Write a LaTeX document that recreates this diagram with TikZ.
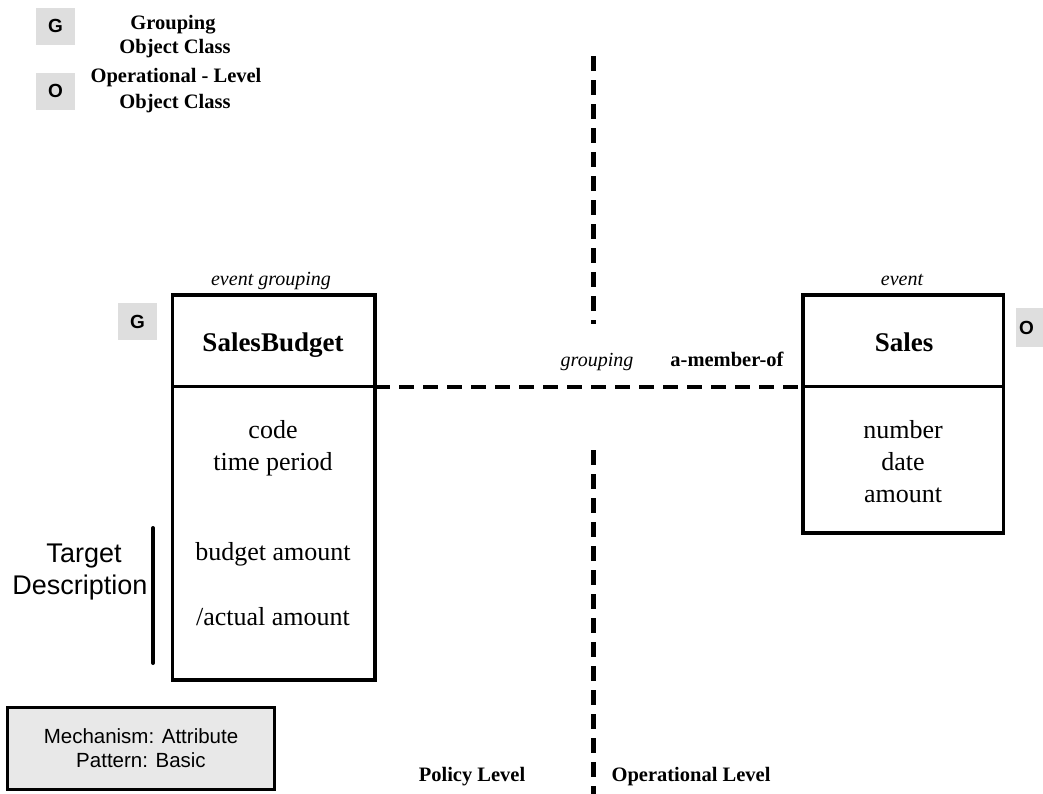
\documentclass[tikz,border=0pt]{standalone}
\usepackage{fontspec}
\setmainfont{Liberation Serif}
\setsansfont{Liberation Sans}
\definecolor{tagfill}{HTML}{DEDEDE}
\definecolor{notefill}{HTML}{E8E8E8}
\begin{document}
\begin{tikzpicture}[x=1pt,y=-1pt,
  classbox/.style={draw,line width=3.5pt,outer sep=0pt,inner sep=0pt,minimum width=#1},
  tag/.style={fill=tagfill,inner sep=0pt,minimum width=39pt,minimum height=37pt,
    font=\sffamily\bfseries\fontsize{19}{22}\selectfont},
  legendtxt/.style={anchor=base,inner sep=0pt,font=\bfseries\fontsize{20.5}{24}\selectfont},
  headtxt/.style={anchor=base,inner sep=0pt,font=\bfseries\fontsize{27}{32}\selectfont},
  attr/.style={anchor=base,inner sep=0pt,font=\fontsize{26}{31}\selectfont},
  roletxt/.style={anchor=base,inner sep=0pt,font=\itshape\fontsize{20}{24}\selectfont},
  reltxt/.style={anchor=base,inner sep=0pt,font=\bfseries\fontsize{20.5}{24}\selectfont},
  sidetxt/.style={anchor=base,inner sep=0pt,font=\sffamily\fontsize{27}{30}\selectfont},
  divider/.style={line width=4.5pt,dash pattern=on 15pt off 9pt},
]
\useasboundingbox (0,0) rectangle (1043,793);

% legend
\node[tag] (legG) at (55.5,26) {G};
\node[legendtxt] (legGa) at (173,29) {Grouping};
\node[legendtxt] (legGb) at (175,53) {Object Class};
\node[tag] (legO) at (55.5,91) {O};
\node[legendtxt] (legOa) at (176,82) {Operational - Level};
\node[legendtxt] (legOb) at (175,108) {Object Class};

% level divider
\coordinate (divTopA) at (593.5,56);
\coordinate (divTopB) at (593.5,324);
\coordinate (divBotA) at (593.5,450);
\coordinate (divBotB) at (593.5,800);
\draw[divider] (divTopA) -- (divTopB);
\draw[divider] (divBotA) -- (divBotB);

% SalesBudget class
\node[classbox=202.5pt,minimum height=91.5pt] (sbHead) at (273.75,340.75) {};
\node[classbox=202.5pt,minimum height=293.5pt] (sbBody) at (273.75,533.25) {};
\node[roletxt] (sbRole) at (271,285) {event grouping};
\node[headtxt] (sbName) at (273,351) {SalesBudget};
\node[attr] (sbA1) at (273,438) {code};
\node[attr] (sbA2) at (273,470) {time period};
\node[attr] (sbA3) at (273,560) {budget amount};
\node[attr] (sbA4) at (273,625) {/actual amount};
\node[tag] (sbTag) at (137.5,321.5) {G};

% Sales class
\node[classbox=200.5pt,minimum height=91.5pt] (slHead) at (903.25,340.75) {};
\node[classbox=200.5pt,minimum height=146.5pt] (slBody) at (903.25,459.75) {};
\node[roletxt] (slRole) at (902,285) {event};
\node[headtxt] (slName) at (904,351) {Sales};
\node[attr] (slA1) at (903,438) {number};
\node[attr] (slA2) at (903,470) {date};
\node[attr] (slA3) at (903,502) {amount};
\node[tag,anchor=west,minimum width=0pt,text width=30pt,align=left,inner xsep=3pt,
  minimum height=39pt] (slTag) at (1016,327.5) {O};

% grouping relationship
\draw[divider,line width=4pt] (sbHead.south east) -- (slHead.south west);
\node[roletxt] (relRole) at (597,366) {grouping};
\node[reltxt] (relName) at (727,366) {a-member-of};

% target description bracket
\coordinate (brTop) at (153,528);
\coordinate (brBot) at (153,663);
\draw[line width=4pt,line cap=round] (brTop) -- (brBot);
\node[sidetxt] (tdA) at (84,562) {Target};
\node[sidetxt] (tdB) at (80,594) {Description};

% mechanism note
\node[draw,line width=3pt,fill=notefill,minimum width=267pt,minimum height=82pt,
  align=center,font=\sffamily\fontsize{20.5}{24}\selectfont] (note) at (141,748.5)
  {Mechanism: Attribute\\Pattern: Basic};

% level names
\node[reltxt] (lvPolicy) at (472,781) {Policy Level};
\node[reltxt] (lvOper) at (691,781) {Operational Level};
\end{tikzpicture}
\end{document}
